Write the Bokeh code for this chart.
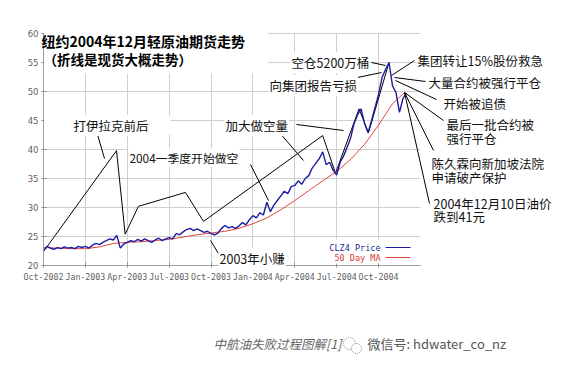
from bokeh.plotting import figure
from bokeh.models import Label, Arrow, BoxAnnotation, FixedTicker, Range1d, Grid
from bokeh.embed import file_html
from bokeh.resources import INLINE

# ---------------- data ----------------
quarter_ticks = [0, 3, 6, 9, 12, 15, 18, 21, 24]
quarter_labels = ["Oct-2002", "Jan-2003", "Apr-2003", "Jul-2003", "Oct-2003",
                  "Jan-2004", "Apr-2004", "Jul-2004", "Oct-2004"]
price_ticks = [20, 25, 30, 35, 40, 45, 50, 55, 60]

# CLZ4 price, weekly samples (months since Oct-2002)
price_values = [
    22.6, 23.3, 23.0, 22.8,   # Oct-02
    23.1, 22.9, 23.2, 23.0,   # Nov-02
    23.1, 22.9, 23.3, 23.1,   # Dec-02
    23.3, 23.0, 23.5, 23.8,   # Jan-03
    23.6, 24.0, 24.3, 24.6,   # Feb-03
    24.4, 25.2, 23.0, 23.7,   # Mar-03
    24.0, 24.3, 24.1, 24.5,   # Apr-03
    24.2, 24.6, 24.3, 24.0,   # May-03
    24.4, 24.7, 24.3, 24.6,   # Jun-03
    24.8, 24.6, 25.5, 25.3,   # Jul-03
    25.8, 26.2, 26.4, 26.0,   # Aug-03
    26.3, 26.0, 25.7, 25.9,   # Sep-03
    25.5, 25.3, 25.6, 26.4,   # Oct-03
    26.9, 26.5, 26.7, 26.4,   # Nov-03
    26.8, 27.4, 27.0, 27.9,   # Dec-03
    28.6, 28.2, 29.1, 28.7,   # Jan-04
    30.9, 29.3, 30.4, 31.2,   # Feb-04
    32.0, 32.8, 32.4, 33.6,   # Mar-04
    33.8, 34.6, 34.0, 35.0,   # Apr-04
    35.5, 36.8, 37.6, 38.4,   # May-04
    39.6, 37.4, 37.8, 36.4,   # Jun-04
    35.6, 37.8, 38.9, 40.4,   # Jul-04
    42.0, 44.5, 46.0, 47.0,   # Aug-04
    44.5, 42.9, 45.0, 47.2,   # Sep-04
    49.5, 52.4, 53.8, 55.0,   # Oct-04
    51.0, 49.8, 46.4, 48.8,   # Nov-04
    49.7,
]
price_months = [i * 0.25 for i in range(len(price_values))]

# 50 day moving average
ma_months = [0, 1, 2, 3, 4, 5, 6, 7, 8, 9, 10, 11, 12, 13, 14, 15, 16, 17, 18,
             19, 20, 21, 22, 23, 24, 25, 25.9]
ma_values = [23.1, 23.0, 22.9, 22.9, 23.2, 23.8, 24.0, 24.1, 24.3, 24.5, 24.9,
             25.3, 25.6, 25.9, 26.4, 27.2, 28.2, 29.6, 31.2, 32.9, 34.6, 36.2,
             38.3, 40.9, 44.2, 47.9, 49.9]

# hand-drawn spot trend polyline
spot_months = [0, 5.23, 5.85, 6.8, 10.17, 11.46, 20.0, 20.92, 22.6, 23.28, 24.75]
spot_values = [22.4, 39.8, 25.4, 30.2, 32.6, 27.6, 42.4, 35.9, 47.0, 42.9, 55.0]

# ---------------- layout helpers (page pixels -> data) ----------------
def X(px):
    return (px - 43) / 13.96

def Y(py):
    return 20 + (265 - py) / 5.8

CJK = "Noto Sans CJK SC"
W, H = 561, 378
BL, BB = 20, 22   # border left / bottom (axis panels), frame covers the rest

p = figure(width=W, height=H,
           x_range=Range1d(X(BL), X(W)), y_range=Range1d(Y(H - BB), Y(0)),
           output_backend="svg", toolbar_location=None,
           min_border_left=BL, min_border_right=0, min_border_top=0,
           min_border_bottom=BB)
p.outline_line_color = None
p.background_fill_color = "white"
p.border_fill_color = "white"

# axes drawn at the chart's own origin inside the big frame
p.xaxis.fixed_location = 20
p.xaxis.bounds = (0, 27)
p.yaxis.fixed_location = 0
p.yaxis.bounds = (20, 60)
p.xaxis.ticker = FixedTicker(ticks=quarter_ticks)
p.xaxis.major_label_overrides = {t: l for t, l in zip(quarter_ticks, quarter_labels)}
p.yaxis.ticker = FixedTicker(ticks=price_ticks)
for ax in (p.xaxis, p.yaxis):
    ax.axis_line_color = "#a0a0a0"
    ax.major_tick_line_color = "#909090"
    ax.minor_tick_line_color = None
    ax.major_tick_in = 3
    ax.major_tick_out = 2
    ax.major_label_text_color = "#606060"
p.xaxis.major_label_text_font = "DejaVu Sans Mono"
p.xaxis.major_label_text_font_size = "8.3px"
p.xaxis.major_label_standoff = 4
p.yaxis.major_label_text_font = "DejaVu Sans"
p.yaxis.major_label_text_font_size = "8.5px"
p.yaxis.major_label_standoff = 3

# grid restricted to the chart rectangle
p.xgrid.visible = False
p.ygrid.visible = False
grid_color = "#cfcfcf"
if "cross_bounds" in Grid.properties():
    p.add_layout(Grid(dimension=0, ticker=FixedTicker(ticks=quarter_ticks),
                      bounds=(0, 27), cross_bounds=(20, 60),
                      grid_line_color=grid_color))
    p.add_layout(Grid(dimension=1, ticker=FixedTicker(ticks=price_ticks),
                      bounds=(20, 60), cross_bounds=(0, 27),
                      grid_line_color=grid_color))
else:
    p.segment(x0=quarter_ticks, y0=[20] * len(quarter_ticks),
              x1=quarter_ticks, y1=[60] * len(quarter_ticks),
              line_color=grid_color, line_width=1, level="underlay")
    p.segment(x0=[0] * len(price_ticks), y0=price_ticks,
              x1=[27] * len(price_ticks), y1=price_ticks,
              line_color=grid_color, line_width=1, level="underlay")

# white patches (edited-out grid areas)
p.add_layout(BoxAnnotation(left=0.05, right=X(268), top=60.3, bottom=Y(73),
                           fill_color="white", fill_alpha=1, line_color=None))
p.add_layout(BoxAnnotation(left=0.05, right=X(170), top=Y(115), bottom=Y(134),
                           fill_color="white", fill_alpha=1, line_color=None))
p.add_layout(BoxAnnotation(left=X(326), right=X(414), top=Y(239), bottom=Y(263),
                           fill_color="white", fill_alpha=1, line_color=None))

# series
p.line(spot_months, spot_values, line_color="black", line_width=1)
p.line(ma_months, ma_values, line_color="#e0463c", line_width=1)
p.line(price_months, price_values, line_color="#1c1ca0", line_width=1.4)

# legend (text before sample line)
p.add_layout(Label(x=X(380), y=Y(247), text="CLZ4 Price", text_align="right",
                   text_baseline="middle", text_font="DejaVu Sans Mono",
                   text_font_size="8.5px", text_color="#2a2a9a"))
p.add_layout(Label(x=X(380), y=Y(257), text="50 Day MA", text_align="right",
                   text_baseline="middle", text_font="DejaVu Sans Mono",
                   text_font_size="8.5px", text_color="#d83a3a"))
p.add_layout(Arrow(x_start=X(385), y_start=Y(247), x_end=X(410), y_end=Y(247),
                   start=None, end=None, line_color="#1c1ca0", line_width=1))
p.add_layout(Arrow(x_start=X(385), y_start=Y(257), x_end=X(410), y_end=Y(257),
                   start=None, end=None, line_color="#e0463c", line_width=1))

# leader lines (page px) -- drawn before the labels
leaders = [
    ((97, 134), (104, 158)),
    ((250, 164), (268, 200)),
    ((296, 124), (343, 130)),
    ((278, 131), (303, 160)),
    ((357, 77), (381, 72)),
    ((371, 62), (385, 65)),
    ((414, 60), (391, 75)),
    ((425, 81), (394, 77)),
    ((436, 99), (395, 80)),
    ((443, 120), (404, 92)),
    ((404, 92), (433, 150)),
    ((404, 92), (429, 203)),
    ((210, 240), (218, 253)),
]
for (x0, y0), (x1, y1) in leaders:
    p.add_layout(Arrow(x_start=X(x0), y_start=Y(y0), x_end=X(x1), y_end=Y(y1),
                       start=None, end=None, line_color="black", line_width=1))

# title
p.add_layout(Label(x=X(41), y=Y(40), text="纽约2004年12月轻原油期货走势",
                   text_baseline="middle", text_font=CJK, text_font_size="14px",
                   text_font_style="bold", text_color="black"))
p.add_layout(Label(x=X(43), y=Y(58), text="（折线是现货大概走势）",
                   text_baseline="middle", text_font=CJK, text_font_size="13.5px",
                   text_font_style="bold", text_color="black"))

# annotations: (text, left px, centre y px, size)
notes = [
    ("打伊拉克前后", 72, 125, "12.5px"),
    ("加大做空量", 224, 125, "12.5px"),
    ("向集团报告亏损", 268, 85, "12.5px"),
    ("空仓5200万桶", 290, 62, "12.5px"),
    ("集团转让15%股份救急", 416, 60, "12.5px"),
    ("大量合约被强行平仓", 427, 82, "12.5px"),
    ("开始被追债", 442, 103, "12.5px"),
    ("最后一批合约被", 445, 124, "12.5px"),
    ("强行平仓", 445, 138, "12.5px"),
    ("陈久霖向新加坡法院", 430, 163, "12.5px"),
    ("申请破产保护", 430, 177, "12.5px"),
    ("2004年12月10日油价", 432, 203, "12.5px"),
    ("跌到41元", 432, 216, "12.5px"),
    ("2004一季度开始做空", 128, 157, "11.8px"),
    ("2003年小赚", 218, 258, "12.5px"),
]
for t, lx, cy, fs in notes:
    inside_grid = lx < 400
    p.add_layout(Label(x=X(lx), y=Y(cy), text=t, text_baseline="middle",
                       text_font=CJK, text_font_size=fs, text_color="#111111",
                       background_fill_color="white" if inside_grid else None,
                       padding=1))

# caption below chart with a small chat-bubble icon
p.add_layout(Label(x=X(213), y=Y(343), text="中航油失败过程图解[1]",
                   text_baseline="middle", text_font=CJK, text_font_size="12.5px",
                   text_font_style="italic", text_color="#666666"))
p.scatter([X(349), X(356)], [Y(343), Y(348)], size=[12, 10], marker="circle",
          fill_color="white", line_color="#8a8a8a", line_dash="1 1", line_width=1)
p.add_layout(Label(x=X(367), y=Y(343), text="微信号: hdwater_co_nz",
                   text_baseline="middle", text_font=CJK, text_font_size="13px",
                   text_color="#555555"))

open("out.html", "w").write(file_html(p, INLINE))
